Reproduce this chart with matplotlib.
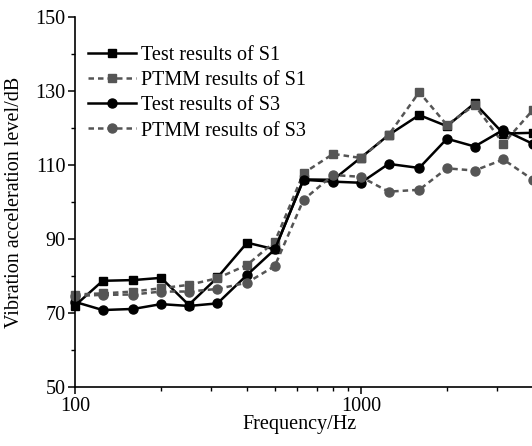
import matplotlib
matplotlib.use("Agg")
import matplotlib.pyplot as plt
from matplotlib.ticker import NullFormatter, FuncFormatter, LogLocator

plt.rcParams['font.family'] = ['Liberation Serif', 'DejaVu Serif']
plt.rcParams['font.size'] = 14.5

# 1/3 octave band centre frequencies (Hz)
freqs = [100, 125, 160, 200, 250, 315, 400, 500, 630, 800, 1000,
         1250, 1600, 2000, 2500, 3150, 4000]

# vibration acceleration level (dB)
test_s1 = [72.0, 78.7, 78.9, 79.5, 72.2, 79.6, 89.0, 87.2, 106.1, 106.0, 112.0,
           118.1, 123.5, 120.5, 126.7, 118.5, 118.7]
ptmm_s1 = [75.0, 75.3, 75.8, 76.7, 77.6, 79.4, 83.0, 89.3, 107.8, 113.0, 111.9,
           118.1, 129.7, 120.8, 126.2, 115.8, 124.9]
test_s3 = [73.0, 70.8, 71.1, 72.4, 71.9, 72.6, 80.3, 87.2, 106.0, 105.5, 105.2,
           110.3, 109.2, 117.1, 115.0, 119.5, 115.7]
ptmm_s3 = [74.6, 74.9, 75.0, 75.8, 75.8, 76.5, 78.2, 82.7, 100.6, 107.3, 106.8,
           102.8, 103.3, 109.1, 108.5, 111.5, 106.0]

labels = ['Test results of S1', 'PTMM results of S1',
          'Test results of S3', 'PTMM results of S3']

y_major = [50, 70, 90, 110, 130, 150]
y_minor = [60, 80, 100, 120, 140]

black = '#000000'
gray = '#555555'

fig = plt.figure(figsize=(5.32, 4.46), dpi=100)
ax = fig.add_axes([75 / 532, 59 / 446, 458 / 532, 370 / 446])

ax.plot(freqs, test_s1, color=black, lw=1.8, marker='s', ms=6, label=labels[0], clip_on=False)
ax.plot(freqs, ptmm_s1, color=gray, lw=1.8, marker='s', ms=6, dashes=(2.2, 1.6), label=labels[1], clip_on=False)
ax.plot(freqs, test_s3, color=black, lw=1.8, marker='o', ms=6.5, label=labels[2], clip_on=False)
ax.plot(freqs, ptmm_s3, color=gray, lw=1.8, marker='o', ms=6.5, dashes=(2.2, 1.6), label=labels[3], clip_on=False)

ax.set_xscale('log')
ax.set_xlim(100, 4000)
ax.set_ylim(50, 150)
ax.set_yticks(y_major)
ax.set_yticks(y_minor, minor=True)
ax.xaxis.set_major_locator(LogLocator(base=10))
ax.xaxis.set_major_formatter(FuncFormatter(lambda v, p: f'{v:.0f}'))
ax.xaxis.set_minor_formatter(NullFormatter())

for s in ['top', 'right']:
    ax.spines[s].set_visible(False)
for s in ['left', 'bottom']:
    ax.spines[s].set_linewidth(1.2)

ax.tick_params(which='major', direction='out', length=5, width=1.1, pad=2)
ax.tick_params(which='minor', direction='out', length=3, width=1.0)

ax.set_xlabel('Frequency/Hz', labelpad=0)
ax.xaxis.set_label_coords((300 - 75) / 458, -0.075)
ax.set_ylabel('Vibration acceleration level/dB')
ax.yaxis.set_label_coords(-(75 - 24) / 458, 0.5)

ax.legend(loc='upper left', bbox_to_anchor=(88 / 532, 1 - 46 / 446),
          bbox_transform=fig.transFigure, frameon=False,
          handlelength=2.4, handletextpad=0.25, labelspacing=0.3,
          borderpad=0, borderaxespad=0)

fig.savefig('out.png', dpi=100)
